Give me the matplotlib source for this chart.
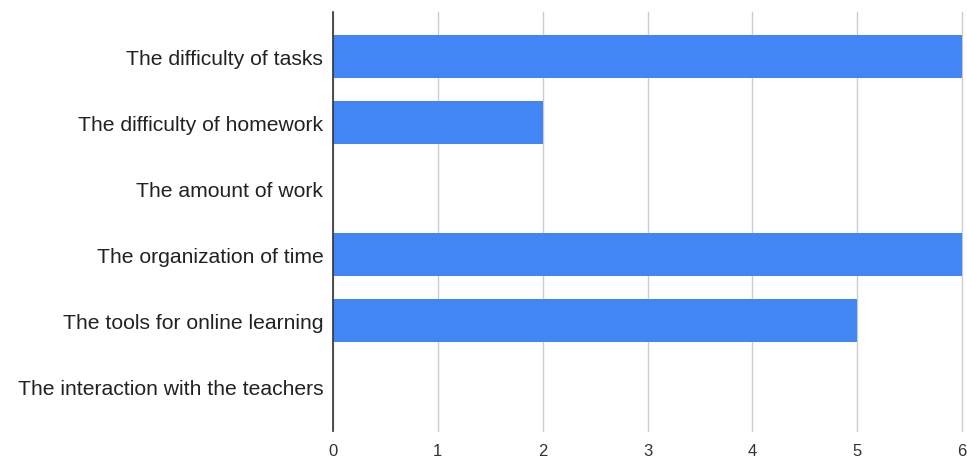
import matplotlib
matplotlib.use("Agg")
import matplotlib.pyplot as plt
from matplotlib import font_manager

categories = [
    "The difficulty of tasks",
    "The difficulty of homework",
    "The amount of work",
    "The organization of time",
    "The tools for online learning",
    "The interaction with the teachers",
]
values = [6, 2, 0, 6, 5, 0]
xticks = [0, 1, 2, 3, 4, 5, 6]

plt.rcParams['font.family'] = ['Liberation Sans', 'DejaVu Sans']
names = {f.name for f in font_manager.fontManager.ttflist}
tick_family = ['Liberation Sans Narrow', 'Liberation Sans'] if 'Liberation Sans Narrow' in names else ['Liberation Sans']

W, H = 967, 460
fig = plt.figure(figsize=(W / 100, H / 100), dpi=100)
ax = fig.add_axes([333 / W, (H - 432) / H, (962 - 333) / W, (432 - 13) / H])

y = list(range(len(categories)))
ax.barh(y, values, height=0.64, color="#4285F4", zorder=3)
ax.set_ylim(len(categories) - 1 + 0.674, -0.674)
ax.set_xlim(0, 6)
ax.set_xticks(xticks)
ax.set_xticklabels([str(t) for t in xticks], fontsize=12, color="#333333", family=tick_family)
ax.set_yticks(y)
ax.set_yticklabels(categories, fontsize=15.2, color="#222222")
ax.tick_params(axis="x", length=0, pad=9)
ax.tick_params(axis="y", length=0, pad=7)
ax.grid(axis="x", color="#cccccc", linewidth=1, zorder=0)
for gl in ax.get_xgridlines():
    gl.set_clip_on(False)
for s in ["top", "right", "bottom"]:
    ax.spines[s].set_visible(False)
ax.spines["left"].set_color("#333333")
ax.spines["left"].set_linewidth(1.2)
ax.spines["left"].set_zorder(4)

fig.savefig("out.png", dpi=100)
